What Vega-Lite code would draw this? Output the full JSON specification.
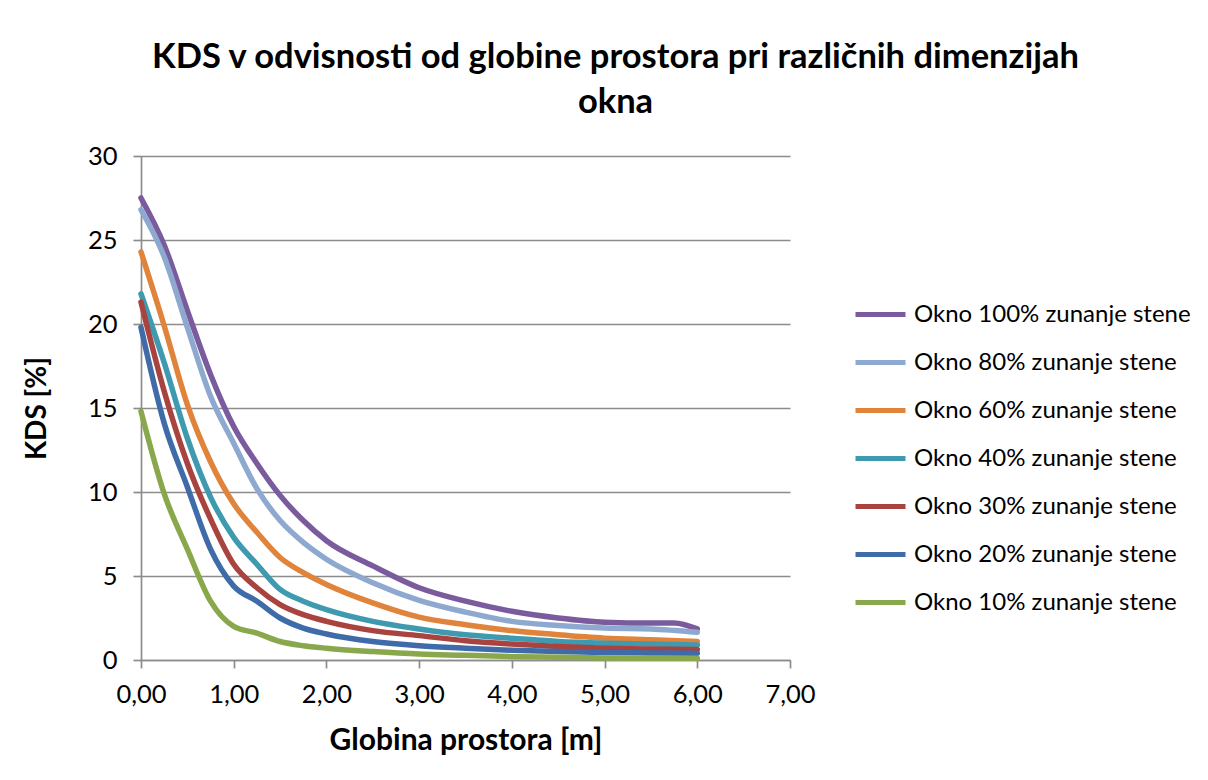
{
  "$schema": "https://vega.github.io/schema/vega-lite/v6.json",
  "width": 649,
  "height": 504,
  "autosize": {"type": "none"},
  "padding": {"left": 141, "top": 156, "right": 418, "bottom": 120},
  "background": "white",
  "title": {
    "text": ["KDS v odvisnosti od globine prostora pri različnih dimenzijah", "okna"],
    "font": "Lato",
    "fontSize": 34.5,
    "fontWeight": "bold",
    "color": "#000000",
    "lineHeight": 45,
    "anchor": "middle",
    "dx": 150,
    "offset": 24
  },
  "data": {
    "values": [
      {"d": 0, "kds": 27.5, "okno": "Okno 100% zunanje stene"},
      {"d": 0.25, "kds": 24.7, "okno": "Okno 100% zunanje stene"},
      {"d": 0.5, "kds": 20.8, "okno": "Okno 100% zunanje stene"},
      {"d": 0.75, "kds": 17.0, "okno": "Okno 100% zunanje stene"},
      {"d": 1.0, "kds": 13.9, "okno": "Okno 100% zunanje stene"},
      {"d": 1.25, "kds": 11.7, "okno": "Okno 100% zunanje stene"},
      {"d": 1.5, "kds": 9.8, "okno": "Okno 100% zunanje stene"},
      {"d": 1.75, "kds": 8.3, "okno": "Okno 100% zunanje stene"},
      {"d": 2.0, "kds": 7.1, "okno": "Okno 100% zunanje stene"},
      {"d": 2.5, "kds": 5.6, "okno": "Okno 100% zunanje stene"},
      {"d": 3.0, "kds": 4.3, "okno": "Okno 100% zunanje stene"},
      {"d": 3.5, "kds": 3.5, "okno": "Okno 100% zunanje stene"},
      {"d": 4.0, "kds": 2.9, "okno": "Okno 100% zunanje stene"},
      {"d": 4.5, "kds": 2.5, "okno": "Okno 100% zunanje stene"},
      {"d": 5.0, "kds": 2.25, "okno": "Okno 100% zunanje stene"},
      {"d": 5.5, "kds": 2.2, "okno": "Okno 100% zunanje stene"},
      {"d": 5.75, "kds": 2.2, "okno": "Okno 100% zunanje stene"},
      {"d": 6.0, "kds": 1.85, "okno": "Okno 100% zunanje stene"},

      {"d": 0, "kds": 26.8, "okno": "Okno 80% zunanje stene"},
      {"d": 0.25, "kds": 24.0, "okno": "Okno 80% zunanje stene"},
      {"d": 0.5, "kds": 19.8, "okno": "Okno 80% zunanje stene"},
      {"d": 0.75, "kds": 15.7, "okno": "Okno 80% zunanje stene"},
      {"d": 1.0, "kds": 12.9, "okno": "Okno 80% zunanje stene"},
      {"d": 1.25, "kds": 10.2, "okno": "Okno 80% zunanje stene"},
      {"d": 1.5, "kds": 8.3, "okno": "Okno 80% zunanje stene"},
      {"d": 1.75, "kds": 7.0, "okno": "Okno 80% zunanje stene"},
      {"d": 2.0, "kds": 6.0, "okno": "Okno 80% zunanje stene"},
      {"d": 2.5, "kds": 4.6, "okno": "Okno 80% zunanje stene"},
      {"d": 3.0, "kds": 3.55, "okno": "Okno 80% zunanje stene"},
      {"d": 3.5, "kds": 2.85, "okno": "Okno 80% zunanje stene"},
      {"d": 4.0, "kds": 2.3, "okno": "Okno 80% zunanje stene"},
      {"d": 4.5, "kds": 2.05, "okno": "Okno 80% zunanje stene"},
      {"d": 5.0, "kds": 1.9, "okno": "Okno 80% zunanje stene"},
      {"d": 5.5, "kds": 1.85, "okno": "Okno 80% zunanje stene"},
      {"d": 6.0, "kds": 1.65, "okno": "Okno 80% zunanje stene"},

      {"d": 0, "kds": 24.3, "okno": "Okno 60% zunanje stene"},
      {"d": 0.25, "kds": 19.9, "okno": "Okno 60% zunanje stene"},
      {"d": 0.5, "kds": 15.2, "okno": "Okno 60% zunanje stene"},
      {"d": 0.75, "kds": 11.8, "okno": "Okno 60% zunanje stene"},
      {"d": 1.0, "kds": 9.3, "okno": "Okno 60% zunanje stene"},
      {"d": 1.25, "kds": 7.6, "okno": "Okno 60% zunanje stene"},
      {"d": 1.5, "kds": 6.1, "okno": "Okno 60% zunanje stene"},
      {"d": 1.75, "kds": 5.2, "okno": "Okno 60% zunanje stene"},
      {"d": 2.0, "kds": 4.5, "okno": "Okno 60% zunanje stene"},
      {"d": 2.5, "kds": 3.4, "okno": "Okno 60% zunanje stene"},
      {"d": 3.0, "kds": 2.55, "okno": "Okno 60% zunanje stene"},
      {"d": 3.5, "kds": 2.1, "okno": "Okno 60% zunanje stene"},
      {"d": 4.0, "kds": 1.75, "okno": "Okno 60% zunanje stene"},
      {"d": 4.5, "kds": 1.5, "okno": "Okno 60% zunanje stene"},
      {"d": 5.0, "kds": 1.3, "okno": "Okno 60% zunanje stene"},
      {"d": 5.5, "kds": 1.2, "okno": "Okno 60% zunanje stene"},
      {"d": 6.0, "kds": 1.1, "okno": "Okno 60% zunanje stene"},

      {"d": 0, "kds": 21.8, "okno": "Okno 40% zunanje stene"},
      {"d": 0.25, "kds": 17.7, "okno": "Okno 40% zunanje stene"},
      {"d": 0.5, "kds": 13.2, "okno": "Okno 40% zunanje stene"},
      {"d": 0.75, "kds": 9.7, "okno": "Okno 40% zunanje stene"},
      {"d": 1.0, "kds": 7.3, "okno": "Okno 40% zunanje stene"},
      {"d": 1.25, "kds": 5.7, "okno": "Okno 40% zunanje stene"},
      {"d": 1.5, "kds": 4.2, "okno": "Okno 40% zunanje stene"},
      {"d": 1.75, "kds": 3.5, "okno": "Okno 40% zunanje stene"},
      {"d": 2.0, "kds": 3.0, "okno": "Okno 40% zunanje stene"},
      {"d": 2.5, "kds": 2.3, "okno": "Okno 40% zunanje stene"},
      {"d": 3.0, "kds": 1.85, "okno": "Okno 40% zunanje stene"},
      {"d": 3.5, "kds": 1.5, "okno": "Okno 40% zunanje stene"},
      {"d": 4.0, "kds": 1.3, "okno": "Okno 40% zunanje stene"},
      {"d": 4.5, "kds": 1.1, "okno": "Okno 40% zunanje stene"},
      {"d": 5.0, "kds": 1.0, "okno": "Okno 40% zunanje stene"},
      {"d": 5.5, "kds": 0.95, "okno": "Okno 40% zunanje stene"},
      {"d": 6.0, "kds": 0.9, "okno": "Okno 40% zunanje stene"},

      {"d": 0, "kds": 21.3, "okno": "Okno 30% zunanje stene"},
      {"d": 0.25, "kds": 16.0, "okno": "Okno 30% zunanje stene"},
      {"d": 0.5, "kds": 11.7, "okno": "Okno 30% zunanje stene"},
      {"d": 0.75, "kds": 8.4, "okno": "Okno 30% zunanje stene"},
      {"d": 1.0, "kds": 5.7, "okno": "Okno 30% zunanje stene"},
      {"d": 1.25, "kds": 4.3, "okno": "Okno 30% zunanje stene"},
      {"d": 1.5, "kds": 3.3, "okno": "Okno 30% zunanje stene"},
      {"d": 1.75, "kds": 2.7, "okno": "Okno 30% zunanje stene"},
      {"d": 2.0, "kds": 2.3, "okno": "Okno 30% zunanje stene"},
      {"d": 2.5, "kds": 1.75, "okno": "Okno 30% zunanje stene"},
      {"d": 3.0, "kds": 1.45, "okno": "Okno 30% zunanje stene"},
      {"d": 3.5, "kds": 1.15, "okno": "Okno 30% zunanje stene"},
      {"d": 4.0, "kds": 0.95, "okno": "Okno 30% zunanje stene"},
      {"d": 4.5, "kds": 0.8, "okno": "Okno 30% zunanje stene"},
      {"d": 5.0, "kds": 0.7, "okno": "Okno 30% zunanje stene"},
      {"d": 5.5, "kds": 0.65, "okno": "Okno 30% zunanje stene"},
      {"d": 6.0, "kds": 0.63, "okno": "Okno 30% zunanje stene"},

      {"d": 0, "kds": 19.8, "okno": "Okno 20% zunanje stene"},
      {"d": 0.25, "kds": 14.1, "okno": "Okno 20% zunanje stene"},
      {"d": 0.5, "kds": 10.3, "okno": "Okno 20% zunanje stene"},
      {"d": 0.75, "kds": 6.6, "okno": "Okno 20% zunanje stene"},
      {"d": 1.0, "kds": 4.4, "okno": "Okno 20% zunanje stene"},
      {"d": 1.25, "kds": 3.5, "okno": "Okno 20% zunanje stene"},
      {"d": 1.5, "kds": 2.5, "okno": "Okno 20% zunanje stene"},
      {"d": 1.75, "kds": 1.9, "okno": "Okno 20% zunanje stene"},
      {"d": 2.0, "kds": 1.55, "okno": "Okno 20% zunanje stene"},
      {"d": 2.5, "kds": 1.1, "okno": "Okno 20% zunanje stene"},
      {"d": 3.0, "kds": 0.85, "okno": "Okno 20% zunanje stene"},
      {"d": 3.5, "kds": 0.7, "okno": "Okno 20% zunanje stene"},
      {"d": 4.0, "kds": 0.58, "okno": "Okno 20% zunanje stene"},
      {"d": 4.5, "kds": 0.5, "okno": "Okno 20% zunanje stene"},
      {"d": 5.0, "kds": 0.45, "okno": "Okno 20% zunanje stene"},
      {"d": 5.5, "kds": 0.42, "okno": "Okno 20% zunanje stene"},
      {"d": 6.0, "kds": 0.4, "okno": "Okno 20% zunanje stene"},

      {"d": 0, "kds": 14.8, "okno": "Okno 10% zunanje stene"},
      {"d": 0.25, "kds": 9.9, "okno": "Okno 10% zunanje stene"},
      {"d": 0.5, "kds": 6.6, "okno": "Okno 10% zunanje stene"},
      {"d": 0.75, "kds": 3.5, "okno": "Okno 10% zunanje stene"},
      {"d": 1.0, "kds": 2.0, "okno": "Okno 10% zunanje stene"},
      {"d": 1.25, "kds": 1.6, "okno": "Okno 10% zunanje stene"},
      {"d": 1.5, "kds": 1.1, "okno": "Okno 10% zunanje stene"},
      {"d": 1.75, "kds": 0.85, "okno": "Okno 10% zunanje stene"},
      {"d": 2.0, "kds": 0.7, "okno": "Okno 10% zunanje stene"},
      {"d": 2.5, "kds": 0.5, "okno": "Okno 10% zunanje stene"},
      {"d": 3.0, "kds": 0.35, "okno": "Okno 10% zunanje stene"},
      {"d": 3.5, "kds": 0.28, "okno": "Okno 10% zunanje stene"},
      {"d": 4.0, "kds": 0.2, "okno": "Okno 10% zunanje stene"},
      {"d": 4.5, "kds": 0.17, "okno": "Okno 10% zunanje stene"},
      {"d": 5.0, "kds": 0.12, "okno": "Okno 10% zunanje stene"},
      {"d": 5.5, "kds": 0.1, "okno": "Okno 10% zunanje stene"},
      {"d": 6.0, "kds": 0.1, "okno": "Okno 10% zunanje stene"}
    ]
  },
  "mark": {"type": "line", "interpolate": "monotone", "strokeWidth": 5.5, "strokeCap": "round", "strokeJoin": "round"},
  "encoding": {
    "x": {
      "field": "d",
      "type": "quantitative",
      "scale": {"domain": [0, 7], "nice": false, "zero": true},
      "axis": {
        "title": "Globina prostora [m]",
        "values": [0, 1, 2, 3, 4, 5, 6, 7],
        "labelExpr": "replace(format(datum.value, '.2f'), '.', ',')",
        "labelFlush": false,
        "grid": false,
        "tickSize": 8,
        "labelPadding": 14,
        "titlePadding": 18
      }
    },
    "y": {
      "field": "kds",
      "type": "quantitative",
      "scale": {"domain": [0, 30], "nice": false},
      "axis": {
        "title": "KDS [%]",
        "values": [0, 5, 10, 15, 20, 25, 30],
        "grid": true,
        "tickSize": 8,
        "labelPadding": 16,
        "titlePadding": 36,
        "titleFontSize": 28
      }
    },
    "color": {
      "field": "okno",
      "type": "nominal",
      "scale": {
        "domain": ["Okno 100% zunanje stene", "Okno 80% zunanje stene", "Okno 60% zunanje stene", "Okno 40% zunanje stene", "Okno 30% zunanje stene", "Okno 20% zunanje stene", "Okno 10% zunanje stene"],
        "range": ["#7a5c9e", "#8ea9cf", "#e0843c", "#3f9ab0", "#a8433f", "#3f6ca8", "#88a84b"]
      },
      "legend": {
        "title": null,
        "orient": "none",
        "legendX": 712,
        "legendY": 131,
        "symbolType": "stroke",
        "symbolSize": 2500,
        "symbolStrokeWidth": 5,
        "labelFont": "Lato",
        "labelFontSize": 24,
        "labelColor": "#000000",
        "labelOffset": 6,
        "rowPadding": 8,
        "labelLimit": 400
      }
    }
  },
  "config": {
    "view": {"stroke": null},
    "axis": {
      "labelFont": "Lato",
      "labelFontSize": 25.5,
      "labelColor": "#000000",
      "titleFont": "Lato",
      "titleFontSize": 30,
      "titleFontWeight": "bold",
      "titleColor": "#000000",
      "domainColor": "#8c8c8c",
      "domainWidth": 1.7,
      "tickColor": "#8c8c8c",
      "tickWidth": 1.7,
      "gridColor": "#8c8c8c",
      "gridWidth": 1.7
    }
  }
}
